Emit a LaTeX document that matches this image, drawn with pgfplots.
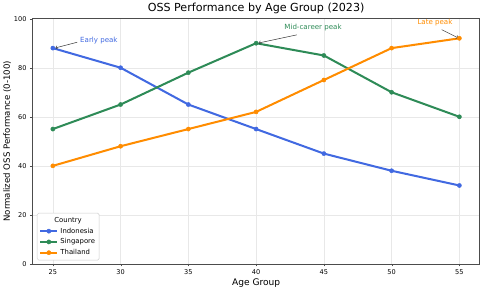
\documentclass[border=0pt]{standalone}
\usepackage{pgfplots}
\pgfplotsset{compat=1.18}
\usepackage{fontspec}
\setmainfont{DejaVu Sans}
\definecolor{cIndo}{RGB}{65,105,225}
\definecolor{cSing}{RGB}{46,139,87}
\definecolor{cThai}{RGB}{255,140,0}
\begin{document}
\begin{tikzpicture}
\begin{axis}[
  scale only axis, width=443pt, height=243pt,
  xmin=23.5, xmax=56.5, ymin=0, ymax=100,
  xtick={25,30,...,55}, ytick={0,20,...,100},
  grid=major, grid style={gray!18, line width=0.4pt},
  axis line style={black!70, line width=0.6pt},
  tick style={black!70}, tick align=outside, major tick length=2.5pt,
  xtick pos=bottom, ytick pos=left,
  /pgf/number format/assume math mode=true,
  ticklabel style={font=\fontsize{6.5}{7}\selectfont},
  title={OSS Performance by Age Group (2023)},
  title style={font=\fontsize{11}{12}\selectfont, yshift=-5pt},
  xlabel={Age Group}, ylabel={Normalized OSS Performance (0-100)},
  xlabel style={font=\fontsize{9}{10}\selectfont, yshift=3pt},
  ylabel style={font=\fontsize{8.5}{10}\selectfont, yshift=-4pt},
  legend style={font=\fontsize{6.8}{8}\selectfont, draw=black!20, rounded corners=1.5pt, inner sep=2pt, row sep=0pt, at={(0.01,0.015)}, anchor=south west},
  legend cell align=left,
  every axis plot/.append style={line width=2pt, mark=*, mark size=2.1pt, mark options={line width=0.4pt}},
]
\addlegendimage{empty legend}
\addlegendentry{\hspace{-6pt}Country}
\addplot[color=cIndo] coordinates {(25,88) (30,80) (35,65) (40,55) (45,45) (50,38) (55,32)};
\addlegendentry{Indonesia}
\addplot[color=cSing] coordinates {(25,55) (30,65) (35,78) (40,90) (45,85) (50,70) (55,60)};
\addlegendentry{Singapore}
\addplot[color=cThai] coordinates {(25,40) (30,48) (35,55) (40,62) (45,75) (50,88) (55,92)};
\addlegendentry{Thailand}
\node[text=cIndo, font=\fontsize{7}{8}\selectfont] at (axis cs:28.4,91.2) {Early peak};
\draw[->, black!80, line width=0.5pt] (axis cs:26.8,90.4) -- (axis cs:25.2,88.1);
\node[text=cSing, font=\fontsize{7}{8}\selectfont] at (axis cs:44.2,96.4) {Mid-career peak};
\draw[->, black!80, line width=0.5pt] (axis cs:43,93.4) -- (axis cs:40.2,90.1);
\node[text=cThai, font=\fontsize{7}{8}\selectfont] at (axis cs:53.2,98.4) {Late peak};
\draw[->, black!80, line width=0.5pt] (axis cs:53.7,95.5) -- (axis cs:54.9,92.2);
\end{axis}
\end{tikzpicture}
\end{document}
